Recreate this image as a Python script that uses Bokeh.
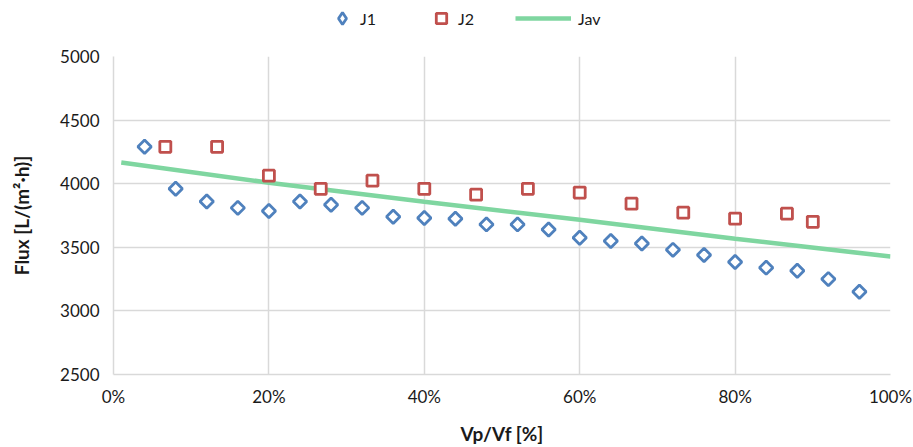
import math
from bokeh.plotting import figure
from bokeh.layouts import column
from bokeh.models import Legend, LegendItem, NumeralTickFormatter, FixedTicker, Range1d
from bokeh.embed import file_html
from bokeh.resources import INLINE

# Data (x as fraction of Vp/Vf)
j1_x = [0.04, 0.08, 0.12, 0.16, 0.20, 0.24, 0.28, 0.32, 0.36, 0.40, 0.44, 0.48,
        0.52, 0.56, 0.60, 0.64, 0.68, 0.72, 0.76, 0.80, 0.84, 0.88, 0.92, 0.96]
j1_y = [4290, 3960, 3860, 3810, 3785, 3860, 3835, 3810, 3740, 3730, 3725, 3680,
        3680, 3640, 3575, 3550, 3530, 3480, 3440, 3385, 3340, 3315, 3250, 3150]

j2_x = [0.0667, 0.1333, 0.20, 0.2667, 0.3333, 0.40, 0.4667, 0.5333, 0.60,
        0.6667, 0.7333, 0.80, 0.8667, 0.90]
j2_y = [4290, 4290, 4063, 3960, 4024, 3960, 3914, 3960, 3930,
        3843, 3772, 3725, 3764, 3700]

jav_x = [0.01, 0.20, 0.40, 0.60, 0.80, 1.00]
jav_y = [4167, 4008, 3858, 3717, 3567, 3427]

x_ticks = [0, 0.2, 0.4, 0.6, 0.8, 1.0]
y_ticks = [2500, 3000, 3500, 4000, 4500, 5000]

FONT = "Lato"
GRID = "#d9d9d9"
TXT = "#1a1a1a"
BLUE = "#4f81bd"
RED = "#c0504d"
GREEN = "#7fd6a0"

J1_STYLE = dict(marker="square", angle=math.pi / 4, size=9.5, fill_color="white",
                line_color=BLUE, line_width=2.8)
J1_LEG_STYLE = dict(marker="diamond", size=12, fill_color="white",
                    line_color=BLUE, line_width=2.8)
J2_STYLE = dict(marker="square", size=11, fill_color="white",
                line_color=RED, line_width=2.8)
JAV_STYLE = dict(line_color=GREEN, line_width=4.5)

# ---- main chart ----
p = figure(width=913, height=407, output_backend="svg", toolbar_location=None,
           x_range=Range1d(0, 1), y_range=Range1d(2500, 5000),
           min_border_left=113, min_border_right=23, min_border_top=16,
           min_border_bottom=73)
p.outline_line_color = None

p.line(jav_x, jav_y, **JAV_STYLE)
p.scatter(j1_x, j1_y, **J1_STYLE)
p.scatter(j2_x, j2_y, **J2_STYLE)

for ax in (p.xaxis[0], p.yaxis[0]):
    ax.major_tick_line_color = None
    ax.minor_tick_line_color = None
    ax.axis_line_color = GRID
    ax.axis_line_width = 1.5
    ax.major_label_text_font = FONT
    ax.major_label_text_font_size = "17px"
    ax.major_label_text_color = TXT
    ax.axis_label_text_font = FONT
    ax.axis_label_text_font_size = "19px"
    ax.axis_label_text_font_style = "bold"
    ax.axis_label_text_color = TXT

p.xaxis.ticker = FixedTicker(ticks=x_ticks)
p.yaxis.ticker = FixedTicker(ticks=y_ticks)
p.xaxis.formatter = NumeralTickFormatter(format="0%")
p.xaxis.major_label_standoff = 5
p.yaxis.major_label_standoff = 8
p.xaxis.axis_label = "Vp/Vf [%]"
p.yaxis.axis_label = "Flux [L/(m²·h)]"
p.xaxis.axis_label_standoff = 12
p.yaxis.axis_label_standoff = 24

p.xgrid.grid_line_color = GRID
p.ygrid.grid_line_color = GRID
p.xgrid.grid_line_width = 1.5
p.ygrid.grid_line_width = 1.5

# ---- legend strip (series drawn out of its view, only legend samples show) ----
lg = figure(width=913, height=40, output_backend="svg", toolbar_location=None,
            x_axis_type=None, y_axis_type=None, min_border=0,
            x_range=Range1d(0, 1), y_range=Range1d(0, 1))
lg.outline_line_color = None
lg.xgrid.visible = False
lg.ygrid.visible = False
r1 = lg.scatter(j1_x, j1_y, **J1_LEG_STYLE)
r2 = lg.scatter(j2_x, j2_y, **J2_STYLE)
r3 = lg.line(jav_x, jav_y, **JAV_STYLE)


def add_legend(label, renderer, x, y, gw, gh, standoff):
    leg = Legend(items=[LegendItem(label=label, renderers=[renderer])],
                 location=(x, y), label_text_font=FONT,
                 label_text_font_size="16px", label_text_color=TXT,
                 glyph_width=gw, glyph_height=gh, label_standoff=standoff,
                 label_height=gh, border_line_color=None,
                 background_fill_alpha=0, padding=0, margin=0)
    lg.add_layout(leg, "center")


# legend frame is aligned with the main frame (left edge at 113px)
add_legend("J1", r1, 214, 7, 30, 30, 3)
add_legend("J2", r2, 315, 9, 26, 26, 4)
add_legend("Jav", r3, 402, 9, 56, 26, 7)

layout = column(lg, p, spacing=0)
open("out.html", "w").write(file_html(layout, INLINE))
